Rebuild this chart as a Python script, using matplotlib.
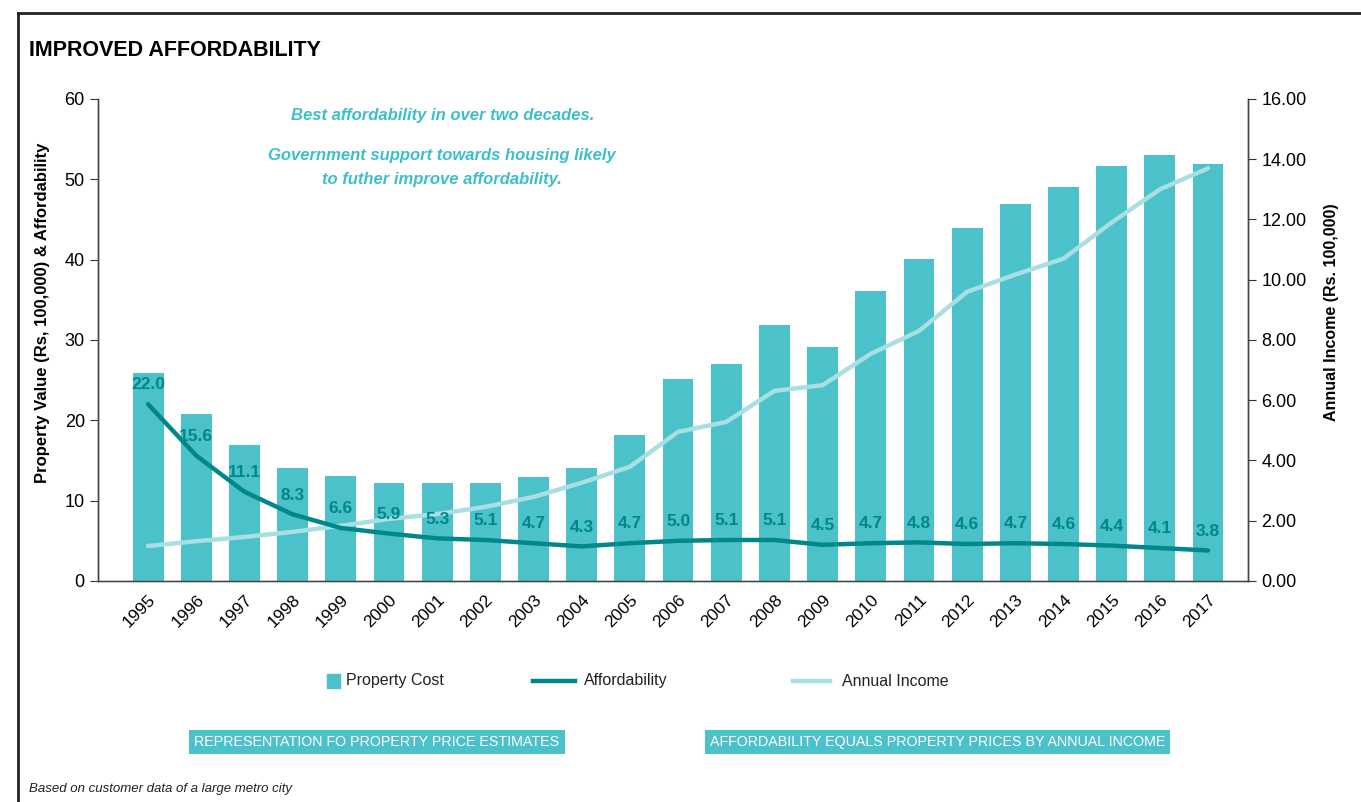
import matplotlib
matplotlib.use("Agg")
import matplotlib.pyplot as plt
from matplotlib.patches import Rectangle
from matplotlib.lines import Line2D

plt.rcParams['font.family'] = ['Liberation Sans', 'DejaVu Sans']

years = [str(y) for y in range(1995, 2018)]
property_cost = [25.9, 20.8, 16.9, 14.1, 13.1, 12.2, 12.2, 12.2, 13.0, 14.1, 18.2, 25.2,
                 27.0, 31.9, 29.1, 36.1, 40.1, 44.0, 46.9, 49.1, 51.6, 53.0, 51.9]
affordability = [22.0, 15.6, 11.1, 8.3, 6.6, 5.9, 5.3, 5.1, 4.7, 4.3, 4.7, 5.0,
                 5.1, 5.1, 4.5, 4.7, 4.8, 4.6, 4.7, 4.6, 4.4, 4.1, 3.8]
annual_income = [1.16, 1.32, 1.46, 1.63, 1.83, 2.06, 2.22, 2.46, 2.79, 3.26, 3.79, 4.95,
                 5.28, 6.31, 6.50, 7.54, 8.30, 9.60, 10.17, 10.70, 11.90, 13.00, 13.70]

bar_c = "#4bc1c9"
aff_c = "#00878b"
inc_c = "#a9dfe3"
txt_c = "#3dbfc7"

fig = plt.figure(figsize=(13.61, 8.02), dpi=100)
ax = fig.add_axes([0.072, 0.2756, 0.845, 0.601])
ax2 = ax.twinx()   # income, right scale
ax3 = ax.twinx()   # affordability, left scale, drawn on top

x = list(range(len(years)))
ax.bar(x, property_cost, width=0.64, color=bar_c)
ax2.plot(x, annual_income, color=inc_c, lw=3.2, solid_capstyle='round')
ax3.plot(x, affordability, color=aff_c, lw=3.2, solid_capstyle='round')
for xi, v in zip(x, affordability):
    ax3.text(xi, v + 2.4, f"{v:.1f}", ha='center', va='center', color=aff_c,
             fontsize=12.5, fontweight='bold')

ax.set_zorder(1)
ax2.set_zorder(2)
ax3.set_zorder(3)
ax2.patch.set_visible(False)
ax3.patch.set_visible(False)

ax.set_xlim(-1.04, 22.83)
ax.set_ylim(0, 60)
ax2.set_ylim(0, 16)
ax3.set_ylim(0, 60)
ax3.axis('off')

ax.set_yticks(range(0, 61, 10))
ax2.set_yticks(range(0, 17, 2))
ax2.set_yticklabels([f"{t:.2f}" for t in range(0, 17, 2)])
ax.set_xticks(x)
ax.set_xticklabels(years, rotation=45, ha='right', rotation_mode='anchor', fontsize=12.5)
ax.tick_params(axis='x', length=0, pad=8)
ax.tick_params(axis='y', labelsize=13, length=6, color='#333333')
ax2.tick_params(axis='y', labelsize=13, length=6, color='#333333')

for a in (ax, ax2):
    a.spines['top'].set_visible(False)
    for s in ('left', 'right', 'bottom'):
        a.spines[s].set_color('#444444')
        a.spines[s].set_linewidth(1)
ax.spines['bottom'].set_color('#888888')

ax.set_ylabel("Property Value (Rs, 100,000) & Affordability", fontsize=12,
              fontweight='bold')
ax.yaxis.set_label_coords(-0.042, 0.557)
ax2.set_ylabel("Annual Income (Rs. 100,000)", fontsize=11.5, fontweight='bold')
ax2.yaxis.set_label_coords(1.066, 0.557)

note_kw = dict(ha='center', va='center', color=txt_c, fontsize=12,
               fontweight='bold', style='italic')
fig.text(0.325, 0.856, "Best affordability in over two decades.", **note_kw)
fig.text(0.325, 0.806, "Government support towards housing likely", **note_kw)
fig.text(0.325, 0.776, "to futher improve affordability.", **note_kw)

fig.text(0.021, 0.937, "IMPROVED AFFORDABILITY", fontsize=15.5, fontweight='bold',
         va='center')
fig.text(0.021, 0.016, "Based on customer data of a large metro city", fontsize=9.5,
         style='italic', va='center', color='#222222')

# frame
fig.add_artist(Line2D([0.0135, 1.0], [0.984, 0.984], color='#222222', lw=2))
fig.add_artist(Line2D([0.0135, 0.0135], [0.0, 0.984], color='#222222', lw=2))

# legend, laid out by hand
W, H = 1361.0, 802.0
ly = 1 - 681 / H
fig.add_artist(Rectangle((327 / W, 1 - 688 / H), 13 / W, 14 / H, color=bar_c,
                         transform=fig.transFigure))
fig.add_artist(Line2D([533 / W, 575 / W], [ly, ly], color=aff_c, lw=3.2))
fig.add_artist(Line2D([793 / W, 830 / W], [ly, ly], color=inc_c, lw=3.2))
leg_kw = dict(fontsize=11.5, va='center', color='#222222')
fig.text(346 / W, ly, "Property Cost", **leg_kw)
fig.text(584 / W, ly, "Affordability", **leg_kw)
fig.text(842 / W, ly, "Annual Income", **leg_kw)

box_kw = dict(ha='center', va='center', color='white', fontsize=10.3,
              bbox=dict(boxstyle='square,pad=0.35', fc=bar_c, ec='none'))
fig.text(0.277, 0.0748, "REPRESENTATION FO PROPERTY PRICE ESTIMATES", **box_kw)
fig.text(0.689, 0.0748, "AFFORDABILITY EQUALS PROPERTY PRICES BY ANNUAL INCOME", **box_kw)

fig.savefig("out.png", dpi=100)
